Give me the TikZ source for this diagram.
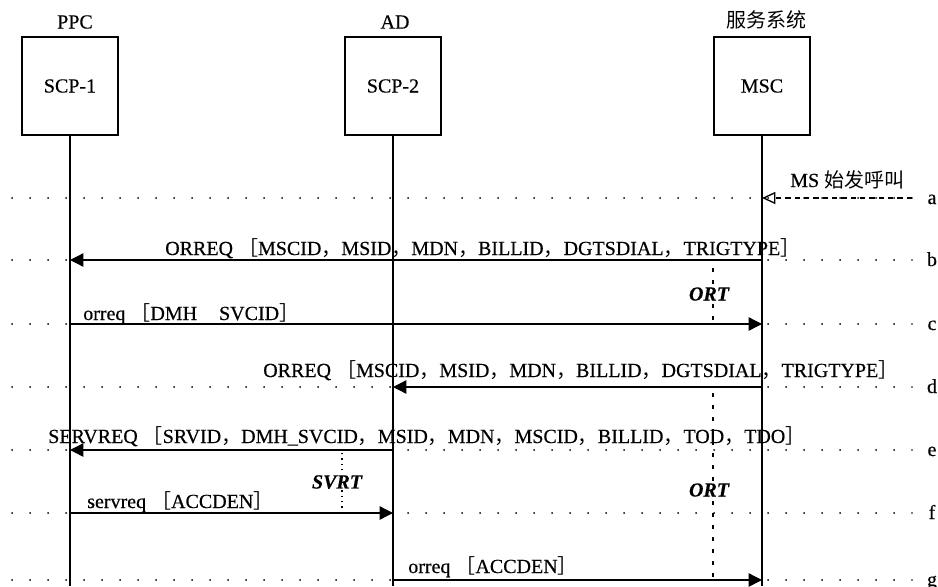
\documentclass[tikz,border=0pt]{standalone}
\usepackage{fontspec}
\setmainfont{Liberation Serif}[FakeBold=0.4]
\newfontfamily\cjk{Noto Sans CJK SC}
\usetikzlibrary{arrows.meta}
\newcommand\fc{{\cjk ，}}
\newcommand\lbk{{\cjk ［}}
\newcommand\rbk{{\cjk ］}}
\begin{document}
\begin{tikzpicture}[x=0.75pt,y=-0.75pt,
  every node/.style={font=\fontsize{15}{18}\selectfont, inner sep=0pt},
  ent/.style={draw, line width=1pt, minimum width=72pt, minimum height=73.5pt},
  life/.style={line width=1pt},
  msg/.style={line width=1pt, -{Triangle[length=10pt,width=10pt]}},
  inmsg/.style={line width=1pt, dash pattern=on 4pt off 3pt, -{Triangle[open,length=10pt,width=9pt]}},
  rowline/.style={line width=1.3pt, line cap=round, dash pattern=on 0.2pt off 13.3pt},
  timer/.style={line width=1pt, dash pattern=on 3pt off 6pt},
  dotimer/.style={line width=1pt, dash pattern=on 1pt off 3pt},
  tlab/.style={font=\fontsize{15}{18}\selectfont\bfseries\itshape, fill=white, inner sep=1pt},
  msglab/.style={anchor=base west}
]
\useasboundingbox (0,0) rectangle (938,586);
\fill[white] (0,0) rectangle (938,586);

% entities
\node[ent] (scp1) at (70,86) {SCP-1};
\node[ent] (scp2) at (393,86) {SCP-2};
\node[ent] (msc) at (762,86) {MSC};
\node (ppc) at (75,22) {PPC};
\node (ad) at (395,22) {AD};
\node (svc) at (766,20) {\cjk 服务系统};

% row coordinates
\foreach \r/\y in {a/198,b/260,c/324,d/387,e/450,f/513,g/580} {
  \coordinate (L\r) at (12,\y);
  \coordinate (R\r) at (912,\y);
  \coordinate (P\r) at (70,\y);
  \coordinate (A\r) at (393,\y);
  \coordinate (M\r) at (762,\y);
  \node[anchor=base] (lab\r) at (932,\y+6) {\r};
  \draw[rowline] (L\r) -- (R\r);
}

% lifelines
\coordinate (bot1) at (70,586);
\coordinate (bot2) at (393,586);
\coordinate (bot3) at (762,586);
\draw[life] (scp1.south) -- (bot1);
\draw[life] (scp2.south) -- (bot2);
\draw[life] (msc.south) -- (bot3);

% messages
\draw[inmsg] (Ra) -- (Ma);
\node[msglab] (la) at (790,187) {MS {\cjk 始发呼叫}};

\draw[msg] (Mb) -- (Pb);
\node[msglab] (lb) at (165,255) {ORREQ \lbk MSCID\fc MSID\fc MDN\fc BILLID\fc DGTSDIAL\fc TRIGTYPE\rbk};

\draw[msg] (Pc) -- (Mc);
\node[msglab] (lc) at (83,320) {orreq \lbk DMH\hspace{1.1em}SVCID\rbk};

\draw[msg] (Md) -- (Ad);
\node[msglab] (ld) at (263,377) {ORREQ \lbk MSCID\fc MSID\fc MDN\fc BILLID\fc DGTSDIAL\fc TRIGTYPE\rbk};

\draw[msg] (Ae) -- (Pe);
\node[msglab] (le) at (48,443) {SERVREQ \lbk SRVID\fc DMH\_SVCID\fc MSID\fc MDN\fc MSCID\fc BILLID\fc TOD\fc TDO\rbk};

\draw[msg] (Pf) -- (Af);
\node[msglab] (lf) at (87,508) {servreq \lbk ACCDEN\rbk};

\draw[msg] (Ag) -- (Mg);
\node[msglab] (lg) at (408,573) {orreq \lbk ACCDEN\rbk};

% timers
\coordinate (t1s) at (713,268);
\coordinate (t1e) at (713,322);
\draw[timer] (t1s) -- (t1e);
\node[tlab] (ort1) at (709,294) {ORT};

\coordinate (t2s) at (342,453);
\coordinate (t2e) at (342,511);
\draw[dotimer] (t2s) -- (t2e);
\node[tlab] (svrt) at (337,482) {SVRT};

\coordinate (t3s) at (713,393);
\coordinate (t3e) at (713,578);
\draw[timer] (t3s) -- (t3e);
\node[tlab] (ort2) at (709,490) {ORT};
\end{tikzpicture}
\end{document}
